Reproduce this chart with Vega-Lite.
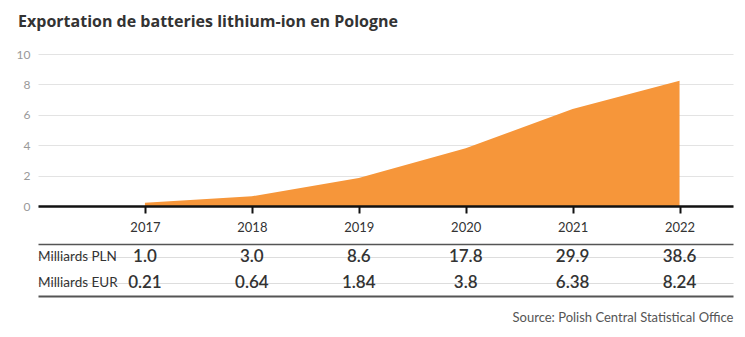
{
  "$schema": "https://vega.github.io/schema/vega-lite/v6.json",
  "background": "white",
  "padding": {"left": 16, "top": 14, "right": 12, "bottom": 8},
  "font": "Lato",
  "title": {
    "text": "Exportation de batteries lithium-ion en Pologne",
    "anchor": "start",
    "frame": "bounds",
    "font": "Open Sans",
    "fontSize": 16,
    "fontWeight": "bold",
    "color": "#333333",
    "offset": 18,
    "dx": 2
  },
  "datasets": {
    "exports": [
      {"year": 2017, "pln": 1.0, "eur": 0.21},
      {"year": 2018, "pln": 3.0, "eur": 0.64},
      {"year": 2019, "pln": 8.6, "eur": 1.84},
      {"year": 2020, "pln": 17.8, "eur": 3.8},
      {"year": 2021, "pln": 29.9, "eur": 6.38},
      {"year": 2022, "pln": 38.6, "eur": 8.24}
    ],
    "rows": [
      {"label": "Milliards PLN"},
      {"label": "Milliards EUR"}
    ]
  },
  "config": {
    "view": {"stroke": null},
    "axis": {"labelFont": "Lato", "titleFont": "Lato"}
  },
  "spacing": 10,
  "vconcat": [
    {
      "width": 695,
      "height": 152,
      "data": {"name": "exports"},
      "mark": {"type": "area", "color": "#f6963a", "opacity": 1},
      "encoding": {
        "x": {
          "field": "year",
          "type": "quantitative",
          "scale": {"domain": [2016, 2022.5], "nice": false, "zero": false},
          "axis": {
            "values": [2017, 2018, 2019, 2020, 2021, 2022],
            "format": "d",
            "title": null,
            "grid": false,
            "domainColor": "#111111",
            "domainWidth": 2.5,
            "tickColor": "#111111",
            "tickWidth": 2,
            "tickSize": 7,
            "labelPadding": 8,
            "labelFontSize": 13,
            "labelColor": "#333333",
            "zindex": 2
          }
        },
        "y": {
          "field": "eur",
          "type": "quantitative",
          "scale": {"domain": [0, 10], "nice": false},
          "axis": {
            "values": [0, 2, 4, 6, 8, 10],
            "title": null,
            "domain": false,
            "ticks": false,
            "gridColor": "#e3e3e3",
            "gridWidth": 1,
            "labelPadding": 8,
            "labelFontSize": 12,
            "labelColor": "#999999"
          }
        }
      }
    },
    {
      "width": 695,
      "height": 52,
      "layer": [
        {
          "data": {"name": "rows"},
          "mark": {"type": "text", "align": "left", "baseline": "middle", "fontSize": 13.5, "color": "#333333", "font": "Lato"},
          "encoding": {
            "x": {
              "datum": 2016,
              "type": "quantitative",
              "scale": {"domain": [2016, 2022.5], "nice": false, "zero": false},
              "axis": {
                "orient": "top",
                "labels": false,
                "ticks": false,
                "grid": false,
                "title": null,
                "domainColor": "#555555",
                "domainWidth": 1.5,
                "zindex": 2
              }
            },
            "y": {
              "field": "label",
              "type": "nominal",
              "scale": {"domain": ["Milliards PLN", "Milliards EUR"], "paddingInner": 0, "paddingOuter": 0},
              "axis": {
                "labels": false,
                "ticks": false,
                "domain": false,
                "title": null,
                "grid": true,
                "bandPosition": 0,
                "gridColor": "#dddddd",
                "gridWidth": 1.2
              }
            },
            "text": {"field": "label", "type": "nominal"}
          }
        },
        {
          "data": {"name": "exports"},
          "mark": {"type": "text", "align": "center", "baseline": "middle", "fontSize": 17, "fontWeight": 600, "color": "#333333", "font": "Lato"},
          "encoding": {
            "x": {"field": "year", "type": "quantitative", "axis": null},
            "y": {"datum": "Milliards PLN", "type": "nominal"},
            "text": {"field": "pln", "type": "quantitative", "format": ".1f"}
          }
        },
        {
          "data": {"name": "exports"},
          "mark": {"type": "text", "align": "center", "baseline": "middle", "fontSize": 17, "fontWeight": 600, "color": "#333333", "font": "Lato"},
          "encoding": {
            "x": {"field": "year", "type": "quantitative", "axis": null},
            "y": {"datum": "Milliards EUR", "type": "nominal"},
            "text": {"field": "eur", "type": "nominal"}
          }
        },
        {
          "data": {"name": "exports"},
          "mark": {"type": "rule", "opacity": 0},
          "encoding": {
            "x": {
              "field": "year",
              "type": "quantitative",
              "axis": {
                "orient": "bottom",
                "labels": false,
                "ticks": false,
                "grid": false,
                "title": "Source: Polish Central Statistical Office",
                "titleAnchor": "end",
                "titleAlign": "right",
                "titleFontSize": 13,
                "titleFontWeight": "normal",
                "titleColor": "#555555",
                "titlePadding": 15,
                "domainColor": "#555555",
                "domainWidth": 2,
                "zindex": 2
              }
            }
          }
        }
      ],
      "resolve": {"axis": {"x": "independent"}}
    }
  ]
}
